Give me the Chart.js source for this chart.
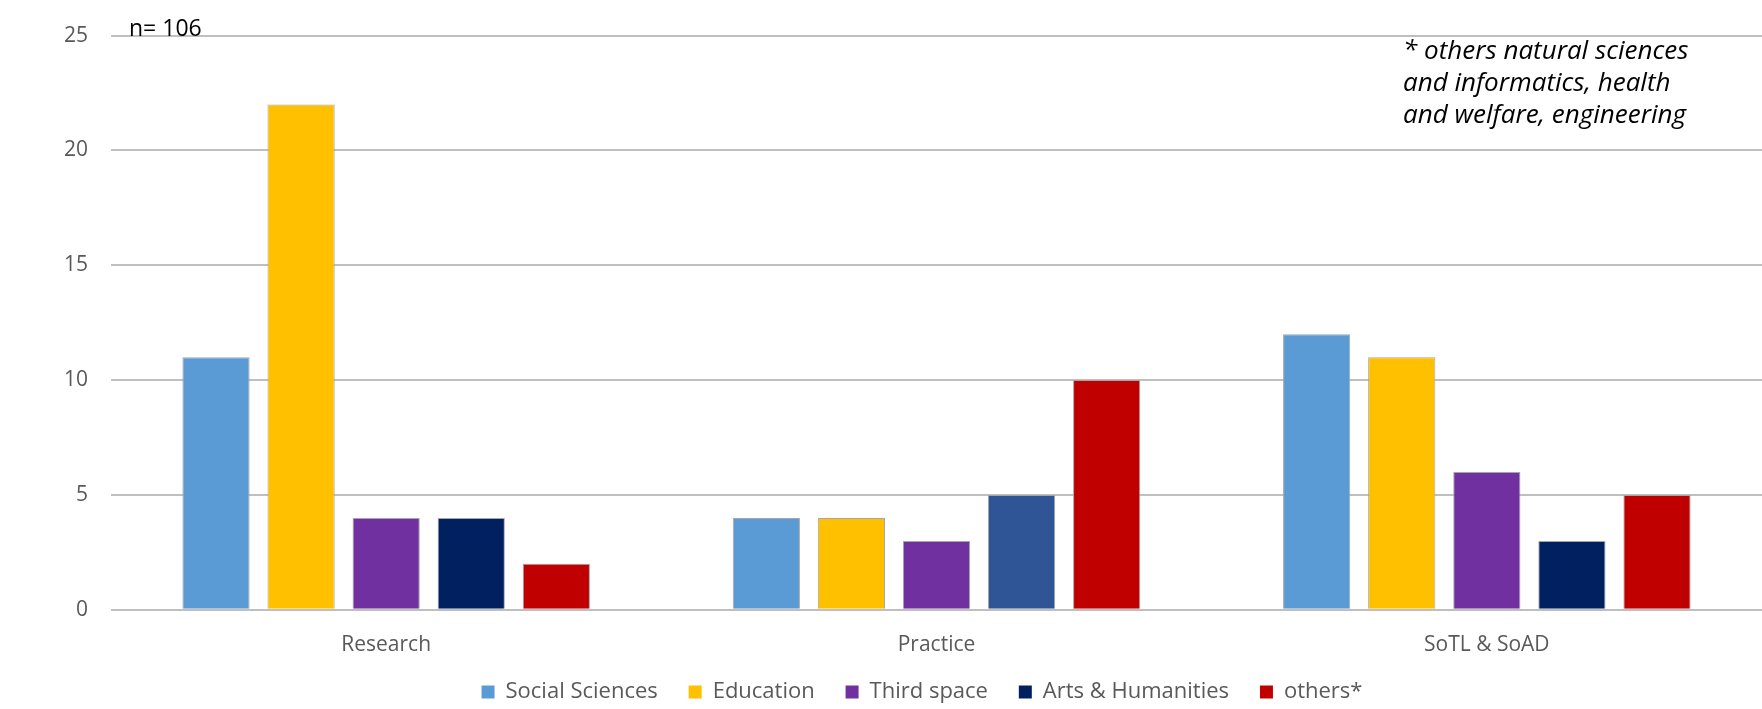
<!DOCTYPE html>
<html>
<head>
<meta charset="utf-8">
<script src="https://cdn.jsdelivr.net/npm/chart.js@4"></script>
<style>
    html, body { margin: 0; padding: 0; background: #fff; }
    #wrap { width: 1762px; height: 709px; position: relative; }
</style>
</head>
<body>
<div id="wrap"><canvas id="chart"></canvas></div>
<script>
var categories = ['Research', 'Practice', 'SoTL & SoAD'];
var socialSciences = [11, 4, 12];
var education = [22, 4, 11];
var thirdSpace = [4, 3, 6];
var artsHumanities = [4, 5, 3];
var others = [2, 10, 5];
var yTicks = [0, 5, 10, 15, 20, 25];

var font = '"Open Sans", Lato, sans-serif';
var grey = '#595959';

var notesPlugin = {
    id: 'notes',
    afterLayout: function (chart) {
        // legend sits a bit right of the canvas centre in the original
        chart.legend.left += 41;
        chart.legend.right += 41;
    },
    afterDraw: function (chart) {
        var ctx = chart.ctx;
        ctx.save();
        ctx.fillStyle = '#000';
        ctx.textBaseline = 'alphabetic';
        ctx.textAlign = 'left';
        ctx.font = '23px ' + font;
        ctx.fillText('n= 106', 129, 36);
        ctx.font = 'italic 26px ' + font;
        ctx.fillText('* others natural sciences', 1403, 59);
        ctx.fillText('and informatics, health', 1403, 91);
        ctx.fillText('and welfare, engineering', 1403, 123);
        ctx.restore();
    }
};

function makeSet(label, data, color) {
    return {
        label: label,
        data: data,
        backgroundColor: color,
        borderColor: '#a6a6a6',
        borderWidth: 1,
        categoryPercentage: 0.773,
        barPercentage: 0.79
    };
}

var datasets = [
    makeSet('Social Sciences', socialSciences, '#5B9BD5'),
    makeSet('Education', education, '#FFC000'),
    makeSet('Third space', thirdSpace, '#7030A0'),
    makeSet('Arts & Humanities', artsHumanities, ['#002060', '#2F5597', '#002060']),
    makeSet('others*', others, '#C00000')
];

new Chart(document.getElementById('chart').getContext('2d'), {
    type: 'bar',
    data: {
        labels: categories,
        datasets: datasets
    },
    options: {
        responsive: true,
        maintainAspectRatio: false,
        animation: false,
        events: [],
        layout: { padding: { top: 32, right: 0, left: 0, bottom: -4 } },
        plugins: {
            legend: {
                position: 'bottom',
                labels: {
                    color: grey,
                    font: { family: font, size: 22 },
                    boxWidth: 13,
                    boxHeight: 13,
                    padding: 8,
                    generateLabels: function (chart) {
                        var n = chart.data.datasets.length;
                        return chart.data.datasets.map(function (ds, i) {
                            var c = Array.isArray(ds.backgroundColor) ? ds.backgroundColor[0] : ds.backgroundColor;
                            // trailing spaces widen the gap between items without adding height
                            var text = i < n - 1 ? ds.label + '    ' : ds.label;
                            return { text: text, fillStyle: c, strokeStyle: c, lineWidth: 0, datasetIndex: i, fontColor: grey };
                        });
                    }
                }
            },
            tooltip: { enabled: false }
        },
        scales: {
            x: {
                grid: { display: false },
                border: { display: false },
                ticks: { color: grey, font: { family: font, size: 21 }, padding: 15 }
            },
            y: {
                min: 0,
                max: 25,
                afterBuildTicks: function (scale) {
                    scale.ticks = yTicks.map(function (v) { return { value: v }; });
                },
                afterFit: function (scale) { scale.width = 111; },
                grid: { color: '#bfbfbf', lineWidth: 2, drawTicks: false },
                border: { display: false },
                ticks: { color: grey, font: { family: font, size: 21 }, padding: 23 }
            }
        }
    },
    plugins: [notesPlugin]
});
</script>
</body>
</html>
